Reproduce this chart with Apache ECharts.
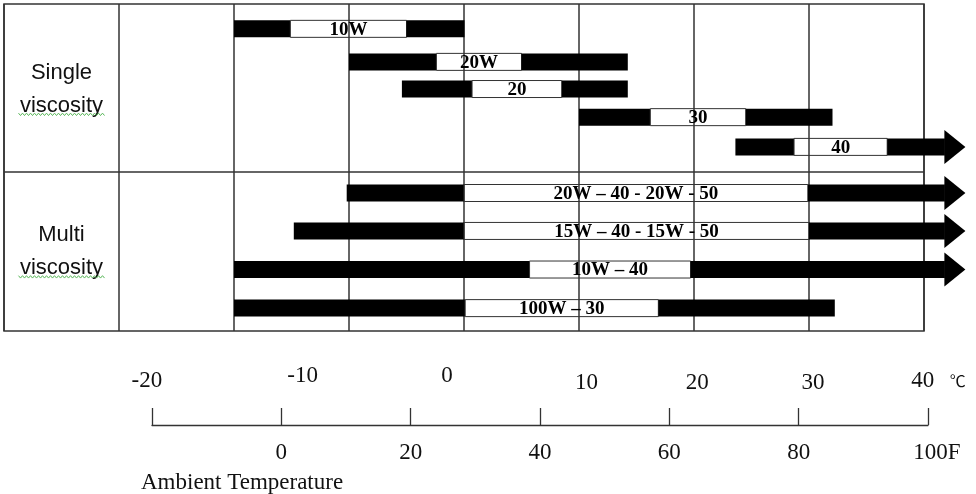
<!DOCTYPE html>
<html><head><meta charset="utf-8">
<script src="https://cdn.jsdelivr.net/npm/echarts@6/dist/echarts.min.js"></script>
<style>html,body{margin:0;padding:0;background:#fff}#c{width:976px;height:494px}</style>
</head><body><div id="c"></div>
<script>
// Table: vertical rule every 10 units from -40 (left edge) to 40 (right edge)
const grades      = ['10W','20W','20','30','40','20W – 40 - 20W - 50','15W – 40 - 15W - 50','10W – 40','100W – 30'];
const rowPos      = [7.6, 17.7, 26.0, 34.6, 43.7, 57.8, 69.4, 81.2, 93.0];   // % of table height
const barStart    = [-20, -10, -5.4, 10, 23.6, -10.2, -14.8, -20, -20];
const whiteStart  = [-15.1, -2.4, 0.7, 16.2, 28.7, 0, 0, 5.7, 0.1];
const whiteEnd    = [-5, 5, 8.5, 24.5, 36.8, 29.9, 30, 19.7, 16.9];
const barEnd      = [0, 14.2, 14.2, 32, 43.6, 43.6, 43.6, 43.6, 32.2];
const hasArrow    = [0, 0, 0, 0, 1, 1, 1, 1, 0];
const sections    = [['Single','viscosity'], ['Multi','viscosity']];
const sectionX    = -35;
const sectionPos  = [26.1, 75.8];
const sectionDivider = 51.4;
// Bottom scale (Fahrenheit axis with Celsius labels above)
const fMin = -20, fMax = 100, fStep = 20;
const cLabels     = ['-20','-10','0','10','20','30','40','℃'];
const cLabelAt    = [-20.8, 3.3, 25.6, 47.2, 64.3, 82.2, 99.2, 104.6];
const cLabelLevel = [0.88, 0.98, 0.98, 0.84, 0.84, 0.84, 0.88, 0.88];

const barData = grades.map((g, i) => [barStart[i], whiteStart[i], whiteEnd[i], barEnd[i], rowPos[i], hasArrow[i]]);
const sectionData = sections.map((s, i) => [sectionX, sectionPos[i]]);
const cData = cLabels.map((l, i) => [cLabelAt[i], cLabelLevel[i]]);

const chart = echarts.init(document.getElementById('c'));
chart.setOption({
  animation: false,
  title: { text: 'Ambient Temperature', left: 141, top: 471, padding: 0,
    textStyle: { fontFamily: '"Liberation Serif", serif', fontSize: 23, fontWeight: 'normal', color: '#111' } },
  grid: [
    { left: 4, right: 52, top: 4, height: 327, show: true, borderColor: '#333', borderWidth: 1.5, backgroundColor: '#fff' },
    { left: 152, right: 48, top: 375, height: 50 }
  ],
  xAxis: [
    { gridIndex: 0, type: 'value', min: -40, max: 40, interval: 10,
      axisLine: { show: false }, axisTick: { show: false }, axisLabel: { show: false },
      splitLine: { show: true, lineStyle: { color: '#333', width: 1.5 } } },
    { gridIndex: 1, type: 'value', min: fMin, max: fMax, interval: fStep,
      axisLine: { show: true, lineStyle: { color: '#333', width: 1.3 } },
      axisTick: { show: true, inside: true, length: 17, lineStyle: { color: '#333', width: 1.3 } },
      axisLabel: { margin: 16, color: '#111', fontSize: 23, fontFamily: '"Liberation Serif", serif',
        formatter: v => v === fMin ? '' : (v === fMax ? '{e|' + v + 'F}' : String(v)),
        rich: { e: { fontSize: 23, fontFamily: '"Liberation Serif", serif', color: '#111', padding: [0, 0, 0, 18] } } },
      splitLine: { show: false } }
  ],
  yAxis: [
    { gridIndex: 0, type: 'value', min: 0, max: 100, inverse: true, show: false, splitLine: { show: false } },
    { gridIndex: 1, type: 'value', min: 0, max: 1, show: false, splitLine: { show: false } }
  ],
  series: [
    {
      type: 'custom', xAxisIndex: 0, yAxisIndex: 0, clip: false, silent: true,
      data: barData,
      encode: { x: [0, 1, 2, 3], y: 4 },
      renderItem(params, api) {
        const yv = api.value(4);
        const p0 = api.coord([api.value(0), yv]);
        const p1 = api.coord([api.value(1), yv]);
        const p2 = api.coord([api.value(2), yv]);
        const p3 = api.coord([api.value(3), yv]);
        const h = 17, cy = p0[1];
        const kids = [];
        kids.push({ type: 'rect', shape: { x: p0[0], y: cy - h / 2, width: p1[0] - p0[0], height: h }, style: { fill: '#000' } });
        kids.push({ type: 'rect', shape: { x: p1[0], y: cy - h / 2, width: p2[0] - p1[0], height: h }, style: { fill: 'none', stroke: '#333', lineWidth: 1 } });
        let endX = p3[0];
        if (api.value(5)) {
          endX = p3[0] - 21;
          kids.push({ type: 'polygon', shape: { points: [[endX, cy - 17], [p3[0], cy], [endX, cy + 17]] }, style: { fill: '#000' } });
        }
        kids.push({ type: 'rect', shape: { x: p2[0], y: cy - h / 2, width: endX - p2[0] + 0.5, height: h }, style: { fill: '#000' } });
        kids.push({ type: 'text', style: { text: grades[params.dataIndex], x: (p1[0] + p2[0]) / 2, y: cy + 1,
          align: 'center', verticalAlign: 'middle', font: 'bold 19px "Liberation Serif"', fill: '#000' } });
        return { type: 'group', children: kids };
      },
      markLine: { silent: true, symbol: 'none', label: { show: false },
        lineStyle: { color: '#333', width: 1.5, type: 'solid' },
        data: [{ yAxis: sectionDivider }] }
    },
    {
      type: 'custom', xAxisIndex: 0, yAxisIndex: 0, clip: false, silent: true,
      data: sectionData,
      renderItem(params, api) {
        const p = api.coord([api.value(0), api.value(1)]);
        const words = sections[params.dataIndex];
        const pts = [];
        for (let x = -43, k = 0; x <= 43; x += 2, k++) pts.push([p[0] + x, p[1] + 25 + (k % 2 ? 1.2 : -1.2)]);
        return { type: 'group', children: [
          { type: 'text', style: { text: words[0], x: p[0], y: p[1] - 16.5, align: 'center', verticalAlign: 'middle', font: '22px "Liberation Sans"', fill: '#111' } },
          { type: 'text', style: { text: words[1], x: p[0], y: p[1] + 16.5, align: 'center', verticalAlign: 'middle', font: '22px "Liberation Sans"', fill: '#111' } },
          { type: 'polyline', shape: { points: pts }, style: { stroke: '#5cb85c', lineWidth: 1, fill: 'none' } }
        ] };
      }
    },
    {
      type: 'custom', xAxisIndex: 1, yAxisIndex: 1, clip: false, silent: true,
      data: cData,
      renderItem(params, api) {
        const p = api.coord([api.value(0), api.value(1)]);
        const unit = params.dataIndex === cLabels.length - 1;
        return { type: 'text', style: { text: cLabels[params.dataIndex], x: p[0], y: p[1], align: 'center', verticalAlign: 'middle',
          font: unit ? '16px "Noto Sans CJK SC"' : '23px "Liberation Serif"', fill: '#111' } };
      }
    }
  ]
});
</script>
</body></html>
